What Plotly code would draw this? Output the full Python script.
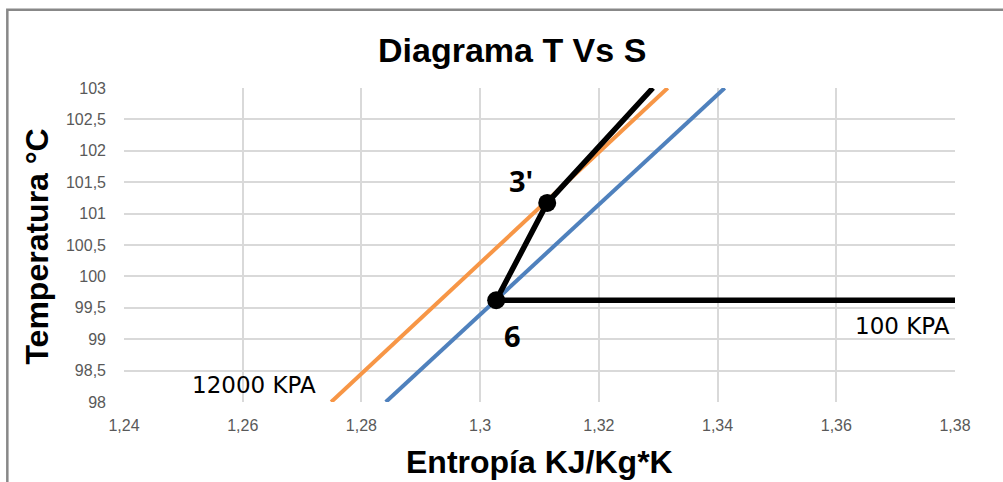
import plotly.graph_objects as go

# Data
orange_s = [1.2749, 1.3316]   # 12000 KPA line
orange_t = [98.0, 103.0]
blue_s = [1.2841, 1.3412]     # 100 KPA saturated line
blue_t = [98.0, 103.0]
cycle_s = [1.3291, 1.3113, 1.3027, 1.38]
cycle_t = [103.0, 101.17, 99.62, 99.62]
point_s = [1.3027, 1.3113]
point_t = [99.62, 101.17]

x_ticks = [1.24, 1.26, 1.28, 1.30, 1.32, 1.34, 1.36, 1.38]
x_text = ["1,24", "1,26", "1,28", "1,3", "1,32", "1,34", "1,36", "1,38"]
y_ticks = [98, 98.5, 99, 99.5, 100, 100.5, 101, 101.5, 102, 102.5, 103]
y_text = ["98", "98,5", "99", "99,5", "100", "100,5", "101", "101,5", "102", "102,5", "103"]

bold_font = "Liberation Sans, Arial, sans-serif"
tick_font = dict(family="Liberation Sans, Arial, sans-serif", size=16, color="#595959")
label_font = "Open Sans, sans-serif"
kpa_font = "DejaVu Sans, sans-serif"

fig = go.Figure()
fig.add_trace(go.Scatter(x=orange_s, y=orange_t, mode="lines",
                         line=dict(color="#F79646", width=4), showlegend=False, hoverinfo="skip"))
fig.add_trace(go.Scatter(x=blue_s, y=blue_t, mode="lines",
                         line=dict(color="#4F81BD", width=4), showlegend=False, hoverinfo="skip"))
fig.add_trace(go.Scatter(x=cycle_s, y=cycle_t, mode="lines",
                         line=dict(color="#000000", width=5.5), showlegend=False, hoverinfo="skip"))
fig.add_trace(go.Scatter(x=point_s, y=point_t, mode="markers",
                         marker=dict(color="#000000", size=18), showlegend=False, hoverinfo="skip"))

anns = [
    dict(x=1.3113, y=101.17, text="<b>3'</b>", xshift=-26, yshift=22,
         font=dict(size=29, family=label_font)),
    dict(x=1.3027, y=99.62, text="<b>6</b>", xshift=16, yshift=-35,
         font=dict(size=29, family=label_font)),
    dict(x=1.2619, y=98.27, text="12000 KPA", font=dict(size=23, family=kpa_font)),
    dict(x=1.3712, y=99.21, text="100 KPA", font=dict(size=23, family=kpa_font)),
    # chart title and axis titles
    dict(x=0.4675, y=1.121, xref="paper", yref="paper", text="<b>Diagrama T Vs S</b>",
         font=dict(size=34, family=bold_font)),
    dict(x=0.5, y=-0.191, xref="paper", yref="paper", text="<b>Entropía KJ/Kg*K</b>",
         font=dict(size=32, family=bold_font)),
    dict(x=-0.1047, y=0.495, xref="paper", yref="paper", text="<b>Temperatura °C</b>",
         textangle=-90, font=dict(size=32, family=bold_font)),
]
for a in anns:
    a["showarrow"] = False
    a["xanchor"] = "center"
    a["yanchor"] = "middle"
    a["font"]["color"] = "#000000"
    fig.add_annotation(**a)

fig.update_layout(
    width=1003, height=482,
    margin=dict(l=124, r=48, t=88, b=80),
    paper_bgcolor="white", plot_bgcolor="white",
    xaxis=dict(range=[1.24, 1.38], tickvals=x_ticks, ticktext=x_text,
               showgrid=True, gridcolor="#D9D9D9", gridwidth=2, zeroline=False,
               showline=False, ticks="", tickfont=tick_font, ticklabelstandoff=12),
    yaxis=dict(range=[98, 103], tickvals=y_ticks, ticktext=y_text,
               showgrid=True, gridcolor="#D9D9D9", gridwidth=2, zeroline=False,
               showline=False, ticks="", tickfont=tick_font, ticklabelstandoff=17),
)

# Chart-area border (left and top edges visible in the window)
fig.add_shape(type="rect", xref="paper", yref="paper", x0=-0.1404, x1=1.3, y0=-0.6, y1=1.249,
              line=dict(color="#888888", width=2.5), layer="above")

fig.write_html("out.html", config={"displayModeBar": False},
               post_script="document.body.style.margin='0';")
